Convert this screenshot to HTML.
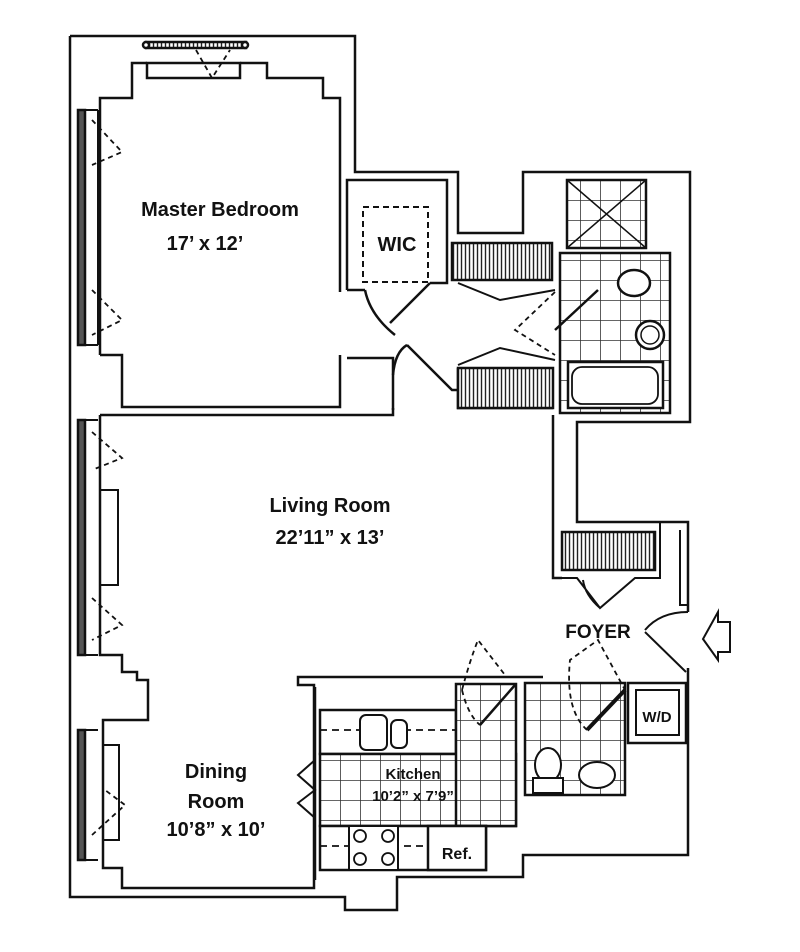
<!DOCTYPE html>
<html><head><meta charset="utf-8"><style>
html,body{margin:0;padding:0;background:#fff}
svg{display:block}
text{font-family:"Liberation Sans",Arial,sans-serif;font-weight:bold;fill:#111}
</style></head><body>
<svg width="800" height="952" viewBox="0 0 800 952" xmlns="http://www.w3.org/2000/svg">
<defs>
<pattern id="hatch" width="4" height="10" patternUnits="userSpaceOnUse"><rect width="4" height="10" fill="#fff"/><line x1="1.5" y1="0" x2="1.5" y2="10" stroke="#222" stroke-width="1.4"/></pattern>
<pattern id="tile" width="20" height="20" patternUnits="userSpaceOnUse"><rect width="20" height="20" fill="#fff"/><path d="M0 0H20M0 0V20" stroke="#333" stroke-width="1.6" fill="none"/></pattern>
</defs>
<g fill="none" stroke="#111" stroke-width="2.5" stroke-linejoin="miter">
<path d="M70 36 H355 V172 H458 V233 H523 V172 H690 V422 H577 V522 H688 V612"/>
<path d="M688 668 V855 H523 V877 H397 V910 H345 V897 H70 V36"/>
<path d="M100 355 V98 H132 V63 H147 M240 63 H267 V78 H323 V98 H340 V292"/>
<rect x="147" y="63" width="93" height="15"/>
<path d="M100 355 H122 V407 H340 V355"/>
<path d="M347 358 H393 V410"/>
<rect x="146" y="42" width="100" height="6" fill="url(#hatch)"/>
<circle cx="146" cy="45" r="3" fill="#fff"/><circle cx="245" cy="45" r="3" fill="#fff"/>
<path d="M196 50 L212 78 L230 50" stroke-dasharray="5,4" stroke-width="1.8"/>
<rect x="78" y="110" width="7" height="235" fill="#555"/>
<rect x="78" y="420" width="7" height="235" fill="#555"/>
<rect x="78" y="730" width="7" height="130" fill="#555"/>
<path d="M85 110 H98 M85 345 H98 M85 420 H98 M85 655 H98 M85 730 H98 M85 860 H98" stroke-width="2"/>
<path d="M98 110 V345 M100 420 V655" stroke-width="2"/>
<g stroke-dasharray="5,4" stroke-width="1.8">
<path d="M92 120 L122 152 L92 165"/>
<path d="M92 290 L122 320 L92 335"/>
<path d="M92 432 L122 458 L92 470"/>
<path d="M92 598 L122 625 L92 640"/>
<path d="M92 835 L125 805 L105 790"/>
</g>
<path d="M100 415 H393 V408"/>
<path d="M100 415 V655 H122 V672 H137 V680 H148 V720 H103 V868 H122 V888 H314 V685 H298 V677 H543"/>
<rect x="100" y="490" width="18" height="95" stroke-width="2"/>
<rect x="103" y="745" width="16" height="95" stroke-width="2"/>
<path d="M553 415 V578 H562 M553 408 H458 V368"/>
<path d="M347 290 V180 H447 V283 H430"/>
<path d="M347 290 H365"/>
<rect x="363" y="207" width="65" height="75" stroke-dasharray="6,4" stroke-width="2"/>
<path d="M365 290 Q370 315 395 335 M430 283 L390 323 M407 345 L452 390 H458 M407 345 Q395 352 393 375"/>
<rect x="452" y="243" width="100" height="37" fill="url(#hatch)"/>
<rect x="458" y="368" width="95" height="40" fill="url(#hatch)"/>
<path d="M458 283 L500 300 L555 290 M458 365 L500 348 L555 360" stroke-width="2"/>
<path d="M555 292 L515 330 L555 355" stroke-dasharray="5,4" stroke-width="1.8"/>
<rect x="567" y="180" width="79" height="68" fill="url(#tile)"/>
<path d="M567 180 L646 248 M646 180 L567 248" stroke-width="1.5"/>
<rect x="560" y="253" width="110" height="160" fill="url(#tile)"/>
<rect x="568" y="362" width="95" height="46" fill="#fff"/>
<rect x="572" y="367" width="86" height="37" rx="10" stroke-width="1.8"/>
<ellipse cx="634" cy="283" rx="16" ry="13" fill="#fff"/>
<circle cx="650" cy="335" r="14" fill="#fff"/><circle cx="650" cy="335" r="9" stroke-width="1.5"/>
<path d="M555 330 L598 290" stroke-width="2.5"/>
<rect x="562" y="532" width="93" height="38" fill="url(#hatch)"/>
<path d="M558 578 H577 L600 608 L635 578 H660 V522 M600 608 Q585 595 583 580" stroke-width="2"/>
<path d="M680 530 V605 H688" stroke-width="2"/>
<path d="M645 632 L686 672 M645 630 Q660 612 688 612" stroke-width="2"/>
<path d="M730 622 H718 V612 L703 639 L718 660 V652 H730 Z" stroke-width="2"/>
<path d="M315 687 V880"/>
<rect x="320" y="710" width="136" height="44" fill="#fff"/>
<rect x="320" y="754" width="196" height="72" fill="url(#tile)"/>
<rect x="456" y="684" width="60" height="142" fill="url(#tile)"/>
<path d="M320 730 H456" stroke-dasharray="7,5" stroke-width="1.8"/>
<rect x="360" y="715" width="27" height="35" rx="6" fill="#fff" stroke-width="2"/>
<rect x="391" y="720" width="16" height="28" rx="6" fill="#fff" stroke-width="2"/>
<rect x="320" y="826" width="166" height="44" fill="#fff"/>
<path d="M320 846 H428" stroke-dasharray="7,5" stroke-width="1.8"/>
<rect x="349" y="826" width="49" height="44" fill="#fff" stroke-width="2"/>
<circle cx="360" cy="836" r="6" stroke-width="1.8"/><circle cx="388" cy="836" r="6" stroke-width="1.8"/>
<circle cx="360" cy="859" r="6" stroke-width="1.8"/><circle cx="388" cy="859" r="6" stroke-width="1.8"/>
<rect x="428" y="826" width="58" height="44" fill="#fff"/>
<path d="M315 760 L298 775 L315 790 L298 803 L315 818" stroke-width="2"/>
<path d="M462 690 Q470 660 478 640 L505 675 M462 690 Q468 715 480 725" stroke-width="1.8" stroke-dasharray="5,4"/>
<path d="M480 725 L515 685" stroke-width="2.5"/>
<rect x="525" y="683" width="100" height="112" fill="url(#tile)"/>
<ellipse cx="548" cy="765" rx="13" ry="17" fill="#fff" stroke-width="2"/>
<rect x="533" y="778" width="30" height="15" fill="#fff" stroke-width="2"/>
<ellipse cx="597" cy="775" rx="18" ry="13" fill="#fff" stroke-width="2"/>
<path d="M587 730 L625 690" stroke-width="4"/>
<path d="M587 730 Q565 710 570 660 L598 640 L625 690" stroke-dasharray="5,4" stroke-width="1.8"/>
<rect x="628" y="683" width="58" height="60" fill="#fff"/>
<rect x="636" y="690" width="43" height="45" stroke-width="2"/>
</g>
<text x="220" y="216" font-size="20" text-anchor="middle">Master Bedroom</text>
<text x="205" y="250" font-size="20" text-anchor="middle">17’ x 12’</text>
<text x="397" y="251" font-size="20" text-anchor="middle">WIC</text>
<text x="330" y="512" font-size="20" text-anchor="middle">Living Room</text>
<text x="330" y="544" font-size="20" text-anchor="middle">22’11” x 13’</text>
<text x="216" y="778" font-size="20" text-anchor="middle">Dining</text>
<text x="216" y="808" font-size="20" text-anchor="middle">Room</text>
<text x="216" y="836" font-size="20" text-anchor="middle">10’8” x 10’</text>
<text x="413" y="779" font-size="15" text-anchor="middle">Kitchen</text>
<text x="413" y="801" font-size="15" text-anchor="middle">10’2” x 7’9”</text>
<text x="457" y="859" font-size="16" text-anchor="middle">Ref.</text>
<text x="657" y="722" font-size="15" text-anchor="middle">W/D</text>
<text x="598" y="638" font-size="19" text-anchor="middle">FOYER</text>
</svg>
</body></html>
